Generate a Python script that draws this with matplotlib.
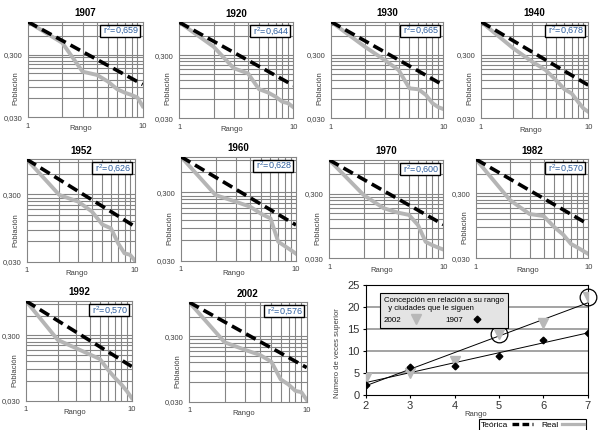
import numpy as np
import matplotlib.pyplot as plt
from matplotlib.lines import Line2D
from matplotlib.patches import Rectangle
from matplotlib.ticker import NullLocator

plt.rcParams['font.family'] = ['Liberation Sans Narrow', 'Liberation Sans', 'DejaVu Sans']

# Rank-size data (population relative to the first city)
rango = [1, 2, 3, 4, 5, 6, 7, 8, 9, 10]
teorica = [1.0, 0.5, 0.333, 0.25, 0.2, 0.167, 0.143, 0.125, 0.111, 0.1]

anios = ['1907', '1920', '1930', '1940', '1952', '1960', '1970', '1982', '1992', '2002']
r2 = ['0,659', '0,644', '0,665', '0,678', '0,626', '0,628', '0,600', '0,570', '0,570', '0,576']

real_1907 = [1.0, 0.46, 0.16, 0.142, 0.111, 0.084, 0.074, 0.068, 0.062, 0.045]
real_1920 = [1.0, 0.41, 0.187, 0.155, 0.087, 0.077, 0.066, 0.055, 0.052, 0.045]
real_1930 = [1.0, 0.404, 0.249, 0.173, 0.089, 0.086, 0.070, 0.052, 0.045, 0.042]
real_1940 = [1.0, 0.38, 0.234, 0.173, 0.12, 0.086, 0.074, 0.055, 0.043, 0.038]
real_1952 = [1.0, 0.295, 0.234, 0.167, 0.107, 0.094, 0.056, 0.040, 0.038, 0.031]
real_1960 = [1.0, 0.274, 0.219, 0.185, 0.145, 0.125, 0.057, 0.049, 0.043, 0.038]
real_1970 = [1.0, 0.287, 0.179, 0.153, 0.141, 0.098, 0.054, 0.048, 0.044, 0.041]
real_1982 = [1.0, 0.237, 0.144, 0.134, 0.090, 0.069, 0.050, 0.044, 0.039, 0.035]
real_1992 = [1.0, 0.254, 0.189, 0.153, 0.130, 0.088, 0.066, 0.053, 0.042, 0.033]
real_2002 = [1.0, 0.244, 0.186, 0.156, 0.123, 0.066, 0.055, 0.044, 0.042, 0.032]

reales = [real_1907, real_1920, real_1930, real_1940, real_1952,
          real_1960, real_1970, real_1982, real_1992, real_2002]

# Concepcion vs following cities
rango_conc = [2, 3, 4, 5, 6, 7]
veces_2002 = [3.8, 5.1, 7.8, 13.8, 16.4, 22.2]
veces_1907 = [2.3, 6.4, 6.7, 8.9, 12.5, 14.0]
destacados_x = [5, 7]
destacados_y = [13.8, 22.2]

W, H = 603, 430
GRID = '#858585'
GRAY = '#b5b5b5'

# panel boxes in pixels: left, right, top, bottom
cajas = [
    (27.7, 142.7, 21.7, 117.3), (179.3, 293.3, 22.3, 118.3),
    (331.0, 443.3, 21.7, 118.3), (481.0, 588.3, 21.7, 118.3),
    (26.7, 135.0, 159.3, 261.7), (181.0, 296.0, 156.7, 260.7),
    (329.3, 443.3, 160.0, 258.3), (476.0, 588.3, 159.3, 258.3),
    (26.0, 131.7, 301.0, 400.7), (189.3, 306.7, 302.3, 401.7),
]


def rect(l, r, t, b):
    return [l / W, 1 - b / H, (r - l) / W, (b - t) / H]


fig = plt.figure(figsize=(W / 100, H / 100), dpi=100)

for i, (anio, real, txt) in enumerate(zip(anios, reales, r2)):
    l, r, t, b = cajas[i]
    ax = fig.add_axes(rect(l, r, t, b))
    ax.set_xscale('log')
    ax.set_yscale('log')
    ax.set_xlim(1, 10)
    ax.set_ylim(0.03, 1.0)

    # Excel-like log grid starting at 0.03
    for y in [0.03 * k for k in range(2, 10)] + [0.3, 0.6, 0.9]:
        ax.axhline(y, color=GRID, lw=0.8, zorder=0)
    for x in range(2, 10):
        ax.axvline(x, color=GRID, lw=0.8, zorder=0)
    for s in ax.spines.values():
        s.set_color(GRID)
        s.set_linewidth(0.8)

    ax.plot(rango, real, color=GRAY, lw=2.8, solid_joinstyle='round', zorder=2)
    ax.plot(rango, teorica, color='black', lw=2.6, dashes=(3.0, 1.5),
            dash_capstyle='butt', zorder=3)

    ax.xaxis.set_minor_locator(NullLocator())
    ax.yaxis.set_minor_locator(NullLocator())
    ax.set_xticks([1, 10], ['1', '10'])
    ax.set_yticks([0.03, 0.3], ['0,030', '0,300'])
    ax.tick_params(length=0, labelsize=5.5, labelcolor='#404040', pad=4)

    ax.set_title(anio, fontsize=7, fontweight='bold', pad=4)
    ax.set_ylabel('Población', fontsize=5.5, color='#404040')
    ax.yaxis.set_label_coords(-0.07, 0.31)
    if anio != '1930':
        ax.set_xlabel('Rango', fontsize=5.5, color='#404040')
        ax.xaxis.set_label_coords(0.46, -0.085)

    # r2 box, fixed size in pixels
    bw, bh = 40 / (r - l), 12 / (b - t)
    bx, by = 1 - 3 / (r - l) - bw, 1 - 3 / (b - t) - bh
    ax.add_patch(Rectangle((bx, by), bw, bh, transform=ax.transAxes,
                           fc='white', ec='black', lw=1.0, zorder=5))
    ax.text(bx + 3 / (r - l), by + bh * 0.45, r'r$^{\mathregular{2}}$=' + txt,
            transform=ax.transAxes, ha='left', va='center', fontsize=6.5,
            color='#2f5f9e', zorder=6)

# Bottom-right chart
ax = fig.add_axes(rect(365.7, 587.7, 285.0, 395.0))
ax.set_xlim(2, 7)
ax.set_ylim(0, 25)
for y in [5, 10, 15, 20]:
    ax.axhline(y, color='#8a8a8a', lw=1.1, zorder=0)

for xs, ys in [(rango_conc, veces_2002), (rango_conc, veces_1907)]:
    m, c = np.polyfit(xs, ys, 1)
    xx = np.array([2, 7])
    ax.plot(xx, m * xx + c, color='black', lw=0.7, zorder=2)

h2002, = ax.plot(rango_conc, veces_2002, 'v', color='#b8b8b8', ms=6.5, ls='none', zorder=3)
h1907, = ax.plot(rango_conc, veces_1907, 'D', color='black', ms=3.4, ls='none', zorder=4)
ax.plot(destacados_x, destacados_y, 'o', mfc='none', mec='black', mew=0.9, ms=12,
        ls='none', zorder=5, clip_on=False)

ax.set_xticks(rango_conc)
ax.set_yticks([0, 5, 10, 15, 20, 25])
ax.tick_params(labelsize=8, length=2.5, width=0.8, pad=2, labelcolor='#333333')
for s in ax.spines.values():
    s.set_color('black')
    s.set_linewidth(0.8)
ax.set_xlabel('Rango', fontsize=5.5, color='#404040')
ax.xaxis.set_label_coords(0.495, -0.15)
ax.set_ylabel('Número de veces superior', fontsize=5.5, color='#404040')
ax.yaxis.set_label_coords(-0.11, 0.38)

leg = ax.legend([h2002, h1907], ['2002', '1907'], ncol=2, markerfirst=False,
                title='Concepción en relación a su rango\n  y ciudades que le siguen',
                title_fontsize=5.6, fontsize=5.8, loc='upper left',
                bbox_to_anchor=(0.045, 0.965), frameon=True, fancybox=False,
                edgecolor='black', facecolor='#e4e4e4', framealpha=1,
                borderpad=0.5, handlelength=1.2, handletextpad=1.2,
                columnspacing=3.0, labelspacing=0.5, alignment='left')
leg.get_frame().set_linewidth(0.8)

# Bottom legend
h_teo = Line2D([], [], color='black', lw=2.4, dashes=(2.0, 1.0))
h_real = Line2D([], [], color=GRAY, lw=2.3)
fl = fig.legend([h_teo, h_real], ['Teórica', 'Real'], ncol=2, markerfirst=False,
                loc='lower right', bbox_to_anchor=(590 / W, -0.012), fontsize=6,
                frameon=True, fancybox=False, edgecolor='black', framealpha=1,
                borderpad=0.25, handlelength=2.6, handletextpad=0.4,
                columnspacing=1.0)
fl.get_frame().set_linewidth(0.8)

fig.savefig('out.png', dpi=100, facecolor='white')
